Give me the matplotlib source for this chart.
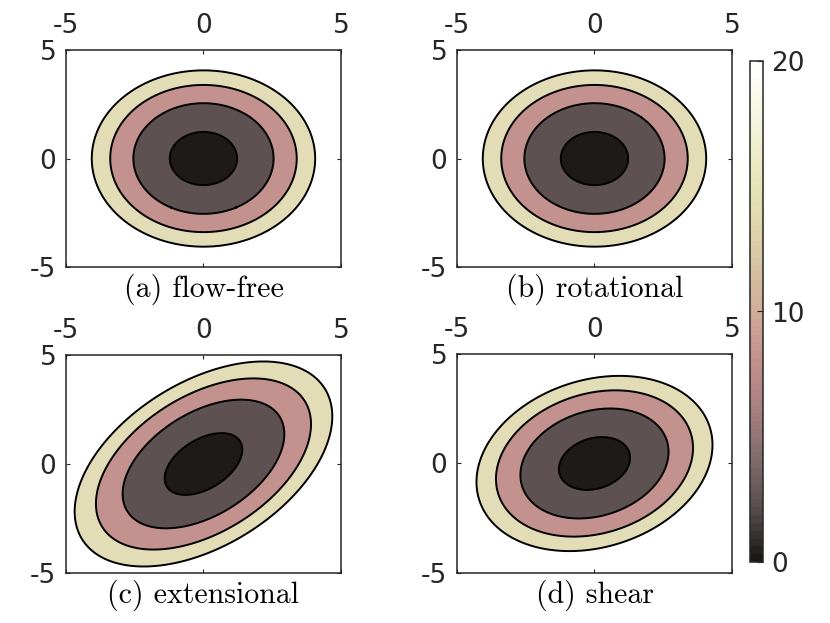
import numpy as np
import matplotlib
matplotlib.use("Agg")
import matplotlib.pyplot as plt
from matplotlib.colors import LinearSegmentedColormap, Normalize
from matplotlib.cm import ScalarMappable

plt.rcParams['font.family'] = ['DejaVu Sans']
plt.rcParams['axes.unicode_minus'] = False

# panel titles and the quadratic form of each field (covariance entries)
titles = ["(a) flow-free", "(b) rotational", "(c) extensional", "(d) shear"]
sxx = [1.0, 1.0, 1.33, 1.116]
syy = [1.0, 1.0, 1.34, 0.97]
sxy = [0.0, 0.0, 0.62, 0.22]
f_min = 3.5
levels = [5, 10, 15, 20]
ticks = [-5, 0, 5]
cbar_ticks = [0, 10, 20]

fill_colors = ['#1e1a1a', '#5e5151', '#c4928e', '#e2ddb6']
cb_nodes = [(0.0, '#1c1818'), (0.1, '#584c4c'), (0.2, '#806c6b'), (0.3, '#a5807e'),
            (0.4, '#c4908c'), (0.5, '#d0ac98'), (0.6, '#d8c4a4'), (0.7, '#e1dcaf'),
            (0.8, '#eceac3'), (0.9, '#f6f6e1'), (1.0, '#ffffff')]
cmap = LinearSegmentedColormap.from_list('pinkish', cb_nodes, N=64)

fig = plt.figure(figsize=(8.3, 6.23), dpi=100)
rects = [[0.0795, 0.5714, 0.3313, 0.3483],
         [0.5506, 0.5714, 0.3313, 0.3483],
         [0.0795, 0.0803, 0.3313, 0.3499],
         [0.5506, 0.0803, 0.3313, 0.3515]]

x = np.linspace(-5, 5, 501)
X, Y = np.meshgrid(x, x)
edge = '#262626'

for i in range(4):
    ax = fig.add_axes(rects[i])
    S = np.array([[sxx[i], sxy[i]], [sxy[i], syy[i]]])
    P = np.linalg.inv(S)
    F = P[0, 0]*X**2 + 2*P[0, 1]*X*Y + P[1, 1]*Y**2 + f_min
    ax.contourf(X, Y, F, levels=[0] + levels, colors=fill_colors)
    ax.contour(X, Y, F, levels=levels, colors='k', linewidths=1.4)
    ax.set_xlim(-5, 5)
    ax.set_ylim(-5, 5)
    ax.set_xticks(ticks)
    ax.set_yticks(ticks)
    ax.xaxis.tick_top()
    ax.tick_params(axis='both', direction='in', length=3, width=0.8, colors=edge,
                   labelsize=19, top=True, bottom=True, left=True, right=True)
    ax.tick_params(axis='x', pad=8)
    ax.tick_params(axis='y', pad=7)
    for s in ax.spines.values():
        s.set_color(edge)
        s.set_linewidth(1.1)
    ax.text(0.5, -0.03, titles[i], transform=ax.transAxes, ha='center', va='top',
            fontsize=21.5, family='cmr10')

cax = fig.add_axes([0.9036, 0.0979, 0.0157, 0.8042])
cb = fig.colorbar(ScalarMappable(norm=Normalize(0, 20), cmap=cmap), cax=cax, ticks=cbar_ticks)
cb.outline.set_edgecolor(edge)
cb.outline.set_linewidth(1.1)
cax.tick_params(direction='in', length=4, width=0.8, colors=edge, labelsize=19, pad=6)

fig.savefig('out.png', dpi=100)
